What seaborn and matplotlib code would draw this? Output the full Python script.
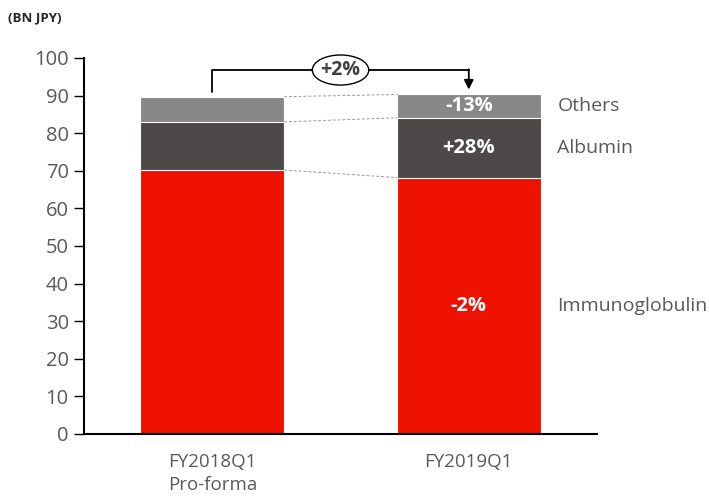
import numpy as np
import pandas as pd
import seaborn as sns
import matplotlib.pyplot as plt
from matplotlib.patches import Ellipse

# data (BN JPY)
periods = ['FY2018Q1\nPro-forma', 'FY2019Q1']
immunoglobulin = [70.2, 68.2]
albumin = [12.8, 15.9]
others = [6.7, 6.2]
seg_names = ['Immunoglobulin', 'Albumin', 'Others']
seg_changes = ['-2%', '+28%', '-13%']
total_change = '+2%'

colors = {'Immunoglobulin': '#EE1100', 'Albumin': '#4D4948', 'Others': '#888888'}

sns.set_style('white')
plt.rcParams['font.family'] = ['Open Sans', 'DejaVu Sans']

df = pd.DataFrame({'period': periods, 'Immunoglobulin': immunoglobulin,
                   'Albumin': albumin, 'Others': others})
df['cum_imm'] = df['Immunoglobulin']
df['cum_alb'] = df['cum_imm'] + df['Albumin']
df['cum_oth'] = df['cum_alb'] + df['Others']

fig = plt.figure(figsize=(7.09, 4.97), dpi=100)
ax = fig.add_axes([0.1185, 0.1268, 0.7236, 0.7565])

w = 0.56
# stacked bars: draw cumulative heights from tallest down
sns.barplot(data=df, x='period', y='cum_oth', color=colors['Others'], width=w,
            edgecolor='white', linewidth=0.8, ax=ax, saturation=1)
sns.barplot(data=df, x='period', y='cum_alb', color=colors['Albumin'], width=w,
            edgecolor='white', linewidth=0.8, ax=ax, saturation=1)
sns.barplot(data=df, x='period', y='cum_imm', color=colors['Immunoglobulin'], width=w,
            edgecolor='white', linewidth=0.8, ax=ax, saturation=1)

ax.set_xlim(-0.5, 1.5)
ax.set_ylim(0, 100)
ax.set_yticks(range(0, 101, 10))
ax.set_xlabel('')
ax.set_ylabel('')
sns.despine(ax=ax)
for s in ['left', 'bottom']:
    ax.spines[s].set_color('black')
    ax.spines[s].set_linewidth(1.5)
ax.tick_params(axis='y', length=7, width=1, color='black', labelsize=14.5,
               labelcolor='#595959', pad=4, left=True)
ax.tick_params(axis='x', length=0, labelsize=13.5, labelcolor='#595959', pad=14)
for lab in ax.get_xticklabels():
    lab.set_linespacing(1.3)

# dashed connectors between segment tops
for col in ['cum_imm', 'cum_alb', 'cum_oth']:
    ax.plot([w / 2, 1 - w / 2], [df[col][0], df[col][1]], ls='--', lw=0.7,
            color='#999999', dashes=(3, 2))

# change labels inside second bar, names to the right
lows = [0, df['cum_imm'][1], df['cum_alb'][1]]
highs = [df['cum_imm'][1], df['cum_alb'][1], df['cum_oth'][1]]
for name, chg, lo, hi in zip(seg_names, seg_changes, lows, highs):
    mid = (lo + hi) / 2
    ax.text(1, mid, chg, color='white', fontweight='bold', fontsize=14.5,
            ha='center', va='center')
    ax.text(1.345, mid, name, color='#595959', fontsize=14, ha='left', va='center',
            clip_on=False)

# total growth bracket
y_top = 96.8
ax.plot([0, 0, 1], [91.0, y_top, y_top], color='black', lw=1.3, clip_on=False)
ax.annotate('', xy=(1, 91.6), xytext=(1, y_top + 0.2),
            arrowprops=dict(arrowstyle='-|>', color='black', lw=1.3,
                            mutation_scale=14, shrinkA=0, shrinkB=0),
            annotation_clip=False)
ell = Ellipse((0.5, y_top), 0.22, 8.0, facecolor='white', edgecolor='black',
              lw=1.0, zorder=5, clip_on=False)
ax.add_patch(ell)
ax.text(0.5, y_top, total_change, ha='center', va='center', fontsize=14,
        fontweight='bold', color='#404040', zorder=6)

fig.text(0.011, 0.963, '(BN JPY)', fontsize=9.5, fontweight='bold',
         color='#262626', ha='left', va='center')

fig.savefig('out.png', dpi=100)
